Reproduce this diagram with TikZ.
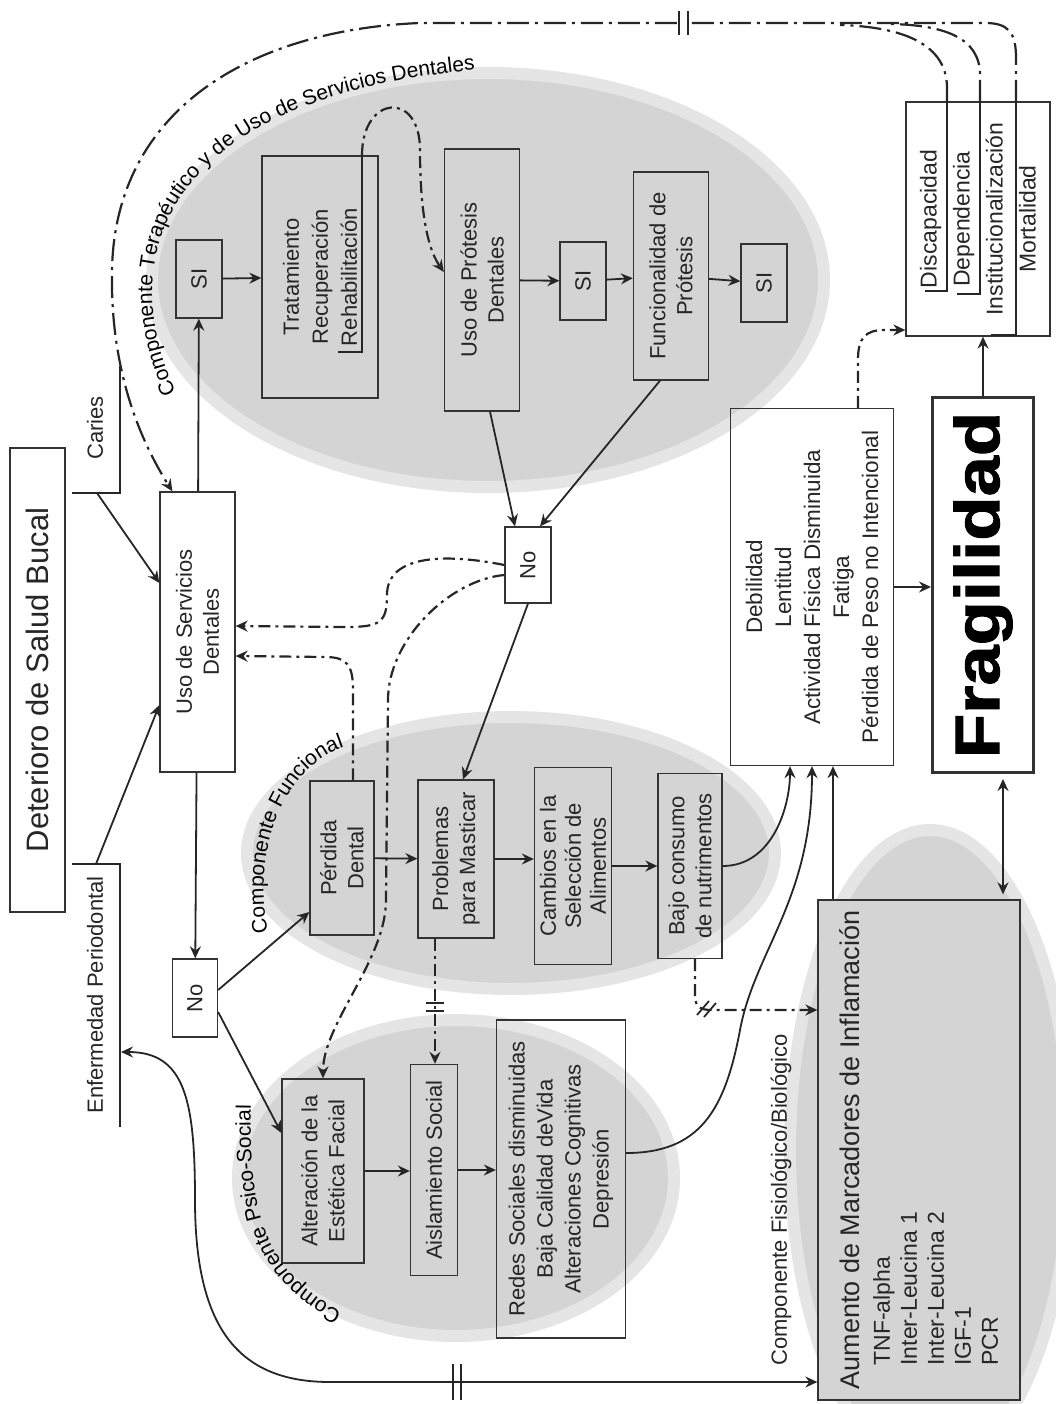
\documentclass[tikz,border=0pt]{standalone}
\usepackage{graphicx}
\usepackage{fontspec}
\setmainfont{Liberation Sans}
\newfontfamily\gruesa[FakeBold=1.5]{Liberation Sans}
\usetikzlibrary{arrows.meta}
\usetikzlibrary{calc}
\usetikzlibrary{decorations.text}

\definecolor{mancha}{gray}{0.83}
\definecolor{halo}{gray}{0.9}

\begin{document}
\begin{tikzpicture}[x=1pt,y=-1pt,>={Stealth[length=12pt,width=11pt,inset=4pt]},
    caja/.style={draw=black!80,line width=1.3pt,rotate=90,align=center,inner sep=3pt,text=black!85,font=\fontsize{22}{27}\selectfont},
    flecha/.style={->,line width=1.8pt,draw=black!85},
    discont/.style={flecha,line width=2.2pt,dash pattern=on 12pt off 5pt on 3pt off 5pt},
    trazo/.style={line width=1.8pt,draw=black!85},
    lomo/.style={trazo,line width=2.2pt,dash pattern=on 22pt off 6pt on 3pt off 6pt},
    rotulo/.style={decorate,decoration={text along path,text align=left}}]

  \useasboundingbox (0,0) rectangle (1056,1404);

  % manchas de los componentes
  \filldraw[fill=mancha,draw=halo,line width=12pt] (488,280) ellipse [x radius=336pt, y radius=207pt];
  \filldraw[fill=mancha,draw=halo,line width=12pt] (511,853) ellipse [x radius=264pt, y radius=136pt];
  \filldraw[fill=mancha,draw=halo,line width=12pt] (456,1178) ellipse [x radius=218pt, y radius=158pt];
  \filldraw[fill=mancha,draw=halo,line width=12pt] (930,1150) ellipse [x radius=140pt, y radius=320pt];

  \begin{scope}[every node/.style={caja}]
    \node[minimum width=464pt,minimum height=55pt,font=\fontsize{31}{34}\selectfont] (deterioro) at (37.5,680) {Deterioro de Salud Bucal};
    \node[draw=none] (caries) at (95,428) {Caries};
    \node[draw=none] (periodontal) at (95,995) {Enfermedad Periodontal};
    \node[minimum width=280pt,minimum height=75pt] (uso) at (197.5,632) {Uso de Servicios\\Dentales};
    \node[minimum width=78pt,minimum height=46pt] (siA) at (199,279) {SI};
    \node[minimum width=242pt,minimum height=116pt,font=\fontsize{22}{29}\selectfont] (trat) at (320,277) {Tratamiento\\Recuperación\\Rehabilitación};
    \node[minimum width=262pt,minimum height=75pt] (protesis) at (482,280) {Uso de Prótesis\\Dentales};
    \node[minimum width=78pt,minimum height=46pt] (siB) at (583,281) {SI};
    \node[minimum width=208pt,minimum height=75pt] (funcion) at (671,276) {Funcionalidad de\\Prótesis};
    \node[minimum width=78pt,minimum height=46pt] (siC) at (764,283) {SI};
    \node[minimum width=234pt,minimum height=144pt,font=\fontsize{23}{33}\selectfont] (desenlace) at (978,219) {Discapacidad\\Dependencia\\Institucionalización\\Mortalidad};
    \node[minimum width=76pt,minimum height=46pt] (noA) at (528,565) {No};
    \node[minimum width=78pt,minimum height=45pt] (noB) at (195,998) {No};
    \node[minimum width=154pt,minimum height=64pt] (perdida) at (342,858) {Pérdida\\Dental};
    \node[minimum width=158pt,minimum height=76pt] (mastica) at (456,859) {Problemas\\para Masticar};
    \node[minimum width=197pt,minimum height=77pt,font=\fontsize{22}{25}\selectfont] (cambios) at (573,866) {Cambios en la\\Selección de\\Alimentos};
    \node[minimum width=185pt,minimum height=64pt] (bajo) at (690,866) {Bajo consumo\\de nutrimentos};
    \node[minimum width=357pt,minimum height=163pt,font=\fontsize{22.5}{29}\selectfont] (actividad) at (812,587) {Debilidad\\Lentitud\\Actividad Física Disminuida\\Fatiga\\Pérdida de Peso no Intencional};
    \node[minimum width=375pt,minimum height=101pt,line width=3pt,text=black,font=\gruesa\bfseries\fontsize{63}{63}\selectfont] (fragil) at (983,585) {\scalebox{1.15}[1]{Fragilidad}};
    \node[minimum width=184pt,minimum height=82pt] (estetica) at (323,1171) {Alteración de la\\Estética Facial};
    \node[minimum width=211pt,minimum height=47pt] (aislam) at (434,1170) {Aislamiento Social};
    \node[minimum width=318pt,minimum height=129pt,font=\fontsize{22}{28}\selectfont] (redes) at (561,1179) {Redes Sociales disminuidas\\Baja Calidad deVida\\Alteraciones Cognitivas\\Depresión};
    \node[minimum width=500pt,minimum height=202pt,fill=mancha,align=left,font=\fontsize{23}{27}\selectfont] (inflam) at (919,1150) {{\fontsize{27}{30}\selectfont Aumento de Marcadores de Inflamación}\\[3pt]\hspace*{24pt}TNF-alpha\\\hspace*{24pt}Inter-Leucina 1\\\hspace*{24pt}Inter-Leucina 2\\\hspace*{24pt}IGF-1\\\hspace*{24pt}PCR};
    \node[draw=none,font=\fontsize{22}{24}\selectfont] (fisio) at (781,1200) {Componente Fisiológico/Biológico};
  \end{scope}

  % rotulos curvos
  \path[rotulo,decoration={text={|\fontsize{21}{21}\selectfont|Componente Terapéutico y de Uso de Servicios Dentales}}] (176,392) .. controls (110,250) and (170,90) .. (500,68);
  \path[rotulo,decoration={text={|\fontsize{21}{21}\selectfont|Componente Funcional}}] (268,932) .. controls (250,840) and (290,762) .. (348,746);
  \path[rotulo,decoration={text={|\fontsize{21}{21}\selectfont|Componente Psico-Social}}] (342,1312) .. controls (265,1272) and (248,1215) .. (251,1100);

  % llaves de caries y enfermedad periodontal
  \coordinate (cariesPie) at (97,493);
  \coordinate (perioPie) at (96,864);
  \coordinate (perioLado) at (121,1052);
  \draw[trazo] (120,366) -- (120,493) -- (72,493);
  \draw[trazo] (72,864) -- (120,864) -- (120,1127);

  % conexiones
  \draw[flecha] (cariesPie) -- ([yshift=49pt]uso.north);
  \draw[flecha] (perioPie) -- ([yshift=-73pt]uso.north);
  \draw[flecha] (uso) -- (siA);
  \draw[flecha] (uso) -- (noB);
  \draw[flecha] (siA) -- (trat);
  \draw[flecha] (protesis) -- (siB);
  \draw[flecha] (siB) -- (funcion);
  \draw[flecha] (funcion) -- (siC);
  \draw[flecha] ([xshift=8pt]protesis.west) -- ([xshift=-13pt]noA.east);
  \draw[flecha] ([xshift=-11pt]funcion.west) -- ([xshift=12pt]noA.east);
  \draw[flecha] (noA.west) -- ([xshift=7pt]mastica.east);
  \draw[flecha] ([yshift=8pt]noB.south) -- ([yshift=-54pt]perdida.north);
  \draw[flecha] ([yshift=-14pt]noB.south) -- ([yshift=38pt]estetica.north);
  \draw[flecha] (perdida) -- (mastica);
  \draw[flecha] (mastica.south) -- (mastica.south -| cambios.north);
  \draw[flecha] (cambios.south) -- (cambios.south -| bajo.north);
  \draw[flecha] (estetica.south) -- (estetica.south -| aislam.north);
  \draw[flecha] (aislam.south) -- (aislam.south -| redes.north);
  \draw[flecha] (bajo.south) .. controls +(50,0) and +(0,40) .. ([xshift=-22pt]actividad.west);
  \draw[flecha] ([yshift=26pt]redes.south) .. controls (700,1153) and (725,1110) .. (740,1030) .. controls (755,950) and (812,900) .. (actividad.west);
  \coordinate (infSal) at ([xshift=-86pt]inflam.east);
  \draw[flecha] (infSal) -- (infSal |- actividad.west);
  \draw[flecha] (actividad.south) -- (actividad.south -| fragil.north);
  \draw[flecha] (fragil.east) -- (fragil.east |- desenlace.west);
  \coordinate (fragInf) at ([xshift=20pt]fragil.west);
  \draw[flecha,<->,shorten >=5pt,shorten <=5pt] (fragInf) -- (fragInf |- inflam.east);
  \draw[flecha,<->] (perioLado) .. controls (185,1052) and (195,1100) .. (195,1200) .. controls (195,1330) and (240,1382) .. (330,1382) -- ([yshift=-232pt]inflam.north);
  \draw[trazo] (453,1364) -- (453,1400) (461,1364) -- (461,1400);

  % conexiones discontinuas
  \coordinate (rehab) at (338,352);
  \coordinate (rehabTop) at ([xshift=42pt]trat.east);
  \draw[trazo] (rehab) -- (rehab -| rehabTop) -- (rehabTop);
  \draw[discont] (rehabTop) .. controls (362,95) and (420,90) .. (420,150) .. controls (420,200) and (425,245) .. ([yshift=8pt]protesis.north);
  \draw[discont] (noA.north) .. controls +(-60,-12) and +(0,-40) .. (387,595) .. controls +(0,28) and +(35,0) .. (345,627) -- ([yshift=6pt]uso.south);
  \draw[discont] ([xshift=11pt]perdida.east) -- (353,690) .. controls +(0,-25) and +(22,0) .. (325,657) -- ([yshift=-24pt]uso.south);
  \draw[discont] ([yshift=-10pt]noA.north) .. controls +(-55,5) and +(0,-60) .. (388,700) -- (386,900) .. controls +(0,60) and +(0,-55) .. (estetica.east);
  \coordinate (masticaBaja) at ([xshift=-21pt]mastica.west);
  \draw[discont] (masticaBaja) -- (masticaBaja |- aislam.east);
  \draw[trazo] (426,1003) -- (444,1003) (426,1011) -- (444,1011);
  \draw[discont] ([xshift=5pt]bajo.west) -- (695,995) .. controls +(0,12) and +(-12,0) .. (712,1010) -- ([yshift=140pt]inflam.north);
  \draw[trazo] (697,1015) -- (709,1001) (704,1017) -- (716,1003);
  \draw[discont] ([xshift=46pt]actividad.east) -- (858,360) .. controls +(0,-22) and +(-20,0) .. (885,330) -- ([yshift=-111pt]desenlace.north);

  % retorno desde los desenlaces
  \coordinate (disc) at (925,291);
  \coordinate (dep) at (957,294);
  \coordinate (inst) at (991,335);
  \draw[trazo] (disc) -- (947,291) -- (947,102);
  \draw[trazo] (dep) -- (980,294) -- (980,102);
  \draw[trazo] (inst) -- (1016,335) -- (1016,102);
  \draw[lomo] (947,102) -- (947,88) .. controls (947,45) and (905,27) .. (840,25);
  \draw[lomo] (980,102) -- (980,75) .. controls (980,38) and (945,25) .. (890,24);
  \draw[lomo,->] (1016,102) -- (1016,58) .. controls (1016,32) and (1008,23) .. (985,23) -- (420,23) .. controls (250,30) and (115,110) .. (112,270) .. controls (110,370) and (140,440) .. ([xshift=13pt]uso.north east);
  \fill[white] (680,16) rectangle (687,30);
  \draw[trazo] (679,11) -- (679,35) (688,11) -- (688,35);
\end{tikzpicture}
\end{document}
